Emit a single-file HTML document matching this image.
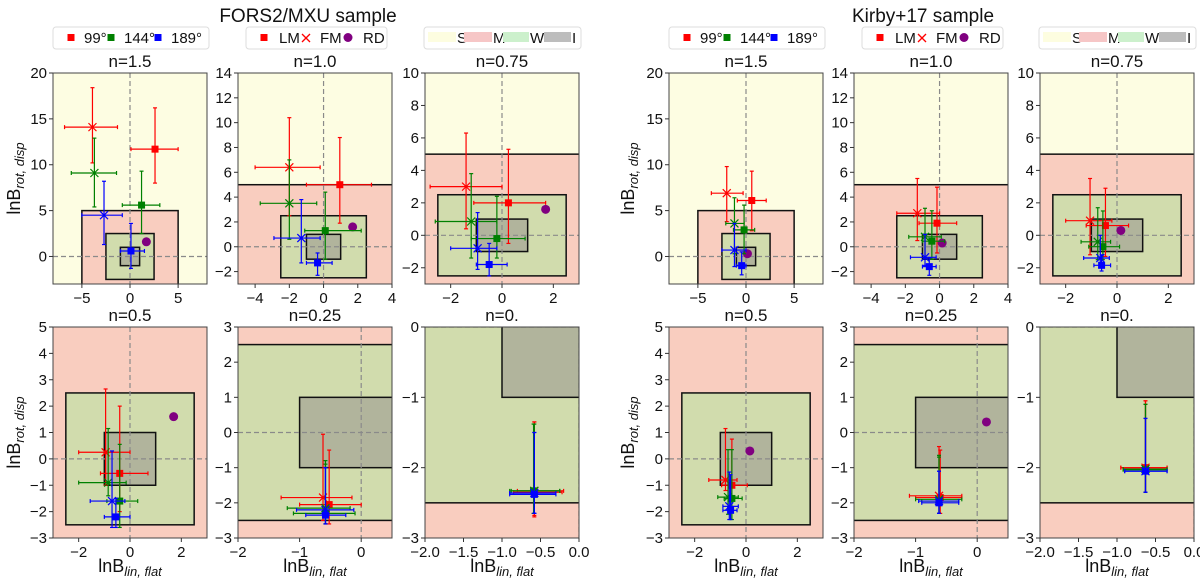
<!DOCTYPE html>
<html><head><meta charset="utf-8"><style>
html,body{margin:0;background:#fff;overflow:hidden;width:1200px;height:583px;}
svg{display:block;font-family:"Liberation Sans","DejaVu Sans",sans-serif;}
</style></head><body>
<svg id="fig" width="1200" height="583" viewBox="0 0 1200 583" xmlns="http://www.w3.org/2000/svg">
<defs id="defs"></defs>
</svg>
<script>
// ---------- data: [color, marker, x, y, xlo, xhi, ylo, yhi] ----------
const fors_n150 = [
 ['r','x',-3.9,14.1,-6.8,-1.3,10.2,18.4],['r','s',2.6,11.7,0.1,5.0,8.0,16.2],
 ['g','x',-3.7,9.1,-6.1,-1.4,5.4,12.9],['g','s',1.2,5.6,-0.8,3.1,2.5,9.3],
 ['b','x',-2.7,4.5,-5.0,-0.8,1.3,8.2],['b','s',0.1,0.6,-1.0,1.5,-1.3,3.6]];
const fors_n100 = [
 ['r','x',-2.0,6.4,-4.0,-0.2,2.5,10.4],['r','s',0.95,5.0,-1.0,2.8,1.9,8.8],
 ['g','x',-2.0,3.5,-3.7,-0.4,0.6,7.0],['g','s',0.1,1.3,-1.1,2.2,-1.0,4.4],
 ['b','x',-1.3,0.7,-2.9,-0.2,-1.3,3.8],['b','s',-0.35,-1.3,-1.0,0.5,-2.3,-0.5]];
const fors_n075 = [
 ['r','x',-1.4,3.0,-2.8,0.0,0.4,6.3],['r','s',0.25,2.0,-1.1,1.7,-0.5,5.3],
 ['g','x',-1.2,0.85,-2.6,-0.2,-1.4,3.8],['g','s',-0.2,-0.2,-1.2,0.9,-1.4,2.4],
 ['b','x',-0.95,-0.8,-2.0,-0.2,-2.1,1.4],['b','s',-0.5,-1.8,-1.0,0.2,-2.5,-0.5]];
const fors_n050 = [
 ['r','x',-0.95,0.25,-2.0,0.0,-1.0,2.65],['r','s',-0.4,-0.55,-1.15,0.7,-2.0,2.0],
 ['g','x',-0.85,-0.9,-2.0,-0.15,-1.4,1.15],['g','s',-0.4,-1.6,-0.9,0.3,-2.6,0.55],
 ['b','x',-0.7,-1.6,-1.55,-0.2,-2.6,0.3],['b','s',-0.55,-2.2,-1.0,0.0,-2.6,-1.5]];
const fors_n025 = [
 ['r','x',-0.62,-1.85,-1.3,-0.15,-2.5,-0.05],['r','s',-0.52,-2.05,-1.0,0.0,-2.6,-0.5],
 ['g','x',-0.58,-2.15,-1.2,-0.18,-2.6,-0.8],['g','s',-0.58,-2.3,-1.1,-0.1,-2.6,-0.9],
 ['b','x',-0.58,-2.2,-1.05,-0.12,-2.6,-1.0],['b','s',-0.58,-2.35,-0.9,-0.25,-2.6,-1.0]];
const fors_n000 = [
 ['r','x',-0.58,-2.33,-0.8,-0.2,-2.7,-1.35],['r','s',-0.58,-2.35,-0.85,-0.22,-2.68,-1.35],
 ['g','x',-0.58,-2.33,-0.88,-0.25,-2.65,-1.38],['g','s',-0.59,-2.33,-0.9,-0.25,-2.65,-1.38],
 ['b','x',-0.58,-2.36,-0.9,-0.3,-2.65,-1.5],['b','s',-0.58,-2.38,-0.9,-0.3,-2.65,-1.5]];
const fors_rd = [1.7, 1.6];

const kirby_n150 = [
 ['r','x',-2.0,6.9,-3.6,-0.3,3.8,9.8],['r','s',0.6,6.1,-0.9,2.1,2.8,9.3],
 ['g','x',-1.2,3.6,-2.1,-0.2,0.3,6.4],['g','s',-0.2,2.9,-1.3,0.9,0.3,5.6],
 ['b','x',-1.2,0.7,-2.5,0.0,-1.1,3.6],['b','s',-0.45,-1.0,-1.0,0.0,-2.0,0.5]];
const kirby_n100 = [
 ['r','x',-1.3,2.7,-2.5,0.0,0.5,5.5],['r','s',-0.15,1.9,-1.2,1.0,-0.5,4.8],
 ['g','x',-0.85,0.8,-1.8,0.1,-0.9,3.1],['g','s',-0.45,0.45,-1.0,0.3,-1.0,2.9],
 ['b','x',-0.85,-0.85,-1.7,-0.2,-1.5,1.0],['b','s',-0.6,-1.6,-1.0,-0.2,-2.3,-0.9]];
const kirby_n075 = [
 ['r','x',-1.05,0.9,-2.0,-0.2,-1.2,3.5],['r','s',-0.45,0.6,-1.2,0.45,-1.3,2.9],
 ['g','x',-0.75,-0.4,-1.4,-0.25,-1.5,1.7],['g','s',-0.55,-0.7,-1.1,0.1,-1.5,1.5],
 ['b','x',-0.65,-1.4,-1.3,-0.3,-2.0,0.0],['b','s',-0.6,-1.85,-0.9,-0.25,-2.2,-1.2]];
const kirby_n050 = [
 ['r','x',-0.8,-0.8,-1.45,-0.35,-1.2,1.15],['r','s',-0.55,-1.0,-0.95,0.05,-1.4,0.75],
 ['g','x',-0.7,-1.45,-1.1,-0.3,-2.1,0.35],['g','s',-0.55,-1.5,-0.85,-0.15,-2.3,0.35],
 ['b','x',-0.65,-1.8,-0.9,-0.3,-2.3,-0.5],['b','s',-0.6,-1.95,-0.9,-0.35,-2.3,-0.6]];
const kirby_n025 = [
 ['r','x',-0.62,-1.8,-1.1,-0.25,-2.3,-0.4],['r','s',-0.6,-1.85,-1.0,-0.25,-2.3,-0.5],
 ['g','x',-0.62,-1.9,-1.0,-0.25,-2.3,-0.65],['g','s',-0.62,-1.95,-0.9,-0.3,-2.3,-0.7],
 ['b','x',-0.62,-1.95,-0.95,-0.3,-2.3,-1.1],['b','s',-0.62,-2.0,-0.9,-0.3,-2.3,-1.1]];
const kirby_n000 = [
 ['r','x',-0.63,-2.0,-0.95,-0.35,-2.35,-1.05],['r','s',-0.63,-2.0,-0.95,-0.35,-2.35,-1.05],
 ['g','x',-0.63,-2.02,-0.92,-0.35,-2.35,-1.1],['g','s',-0.63,-2.03,-0.92,-0.35,-2.35,-1.1],
 ['b','x',-0.63,-2.05,-0.9,-0.35,-2.35,-1.3],['b','s',-0.63,-2.05,-0.9,-0.35,-2.35,-1.3]];
const kirby_rd = [0.15, 0.3];

// tick labels
const xt150 = [-5,0,5], yt150 = [0,5,10,15,20];
const xt100 = [-4,-2,0,2,4], yt100 = [-2,0,2,4,6,8,10,12,14];
const xt075 = [-2,0,2], yt075 = [-2,0,2,4,6,8,10];
const xt050 = [-2,0,2], yt050 = [-3,-2,-1,0,1,2,3,4,5];
const xt025 = [-2,-1,0], yt025 = [-3,-2,-1,0,1,2,3];
const xt000 = ['-2.0','-1.5','-1.0','-0.5','0.0'], yt000 = [-3,-2,-1,0];

const NS='http://www.w3.org/2000/svg';
const svg=document.getElementById('fig');
const defs=document.getElementById('defs');
const COL={r:'#ff0000',g:'#008000',b:'#0000ff'};
const YEL='#fdfde2', PNK='#f9cdbf', GRN='#d1dcad', GRY='#b1b49c';
function mk(tag,attrs,parent){const e=document.createElementNS(NS,tag);for(const k in attrs)e.setAttribute(k,attrs[k]);(parent||svg).appendChild(e);return e;}
function txt(s,attrs,parent){const e=mk('text',attrs,parent);e.textContent=s;return e;}
function fmt(v){return String(v).replace('-','\u2212');}

let clipId=0;
function panel(px,py,w,h,xr,yr,title,kind,data,rd,xticks,yticks,name,showY,showX){
  const g=mk('g',{});
  
  
  const sx=v=>px+(v-xr[0])/(xr[1]-xr[0])*w;
  const sy=v=>py+h-(v-yr[0])/(yr[1]-yr[0])*h;
  const cid='c'+(clipId++);
  const cp=mk('clipPath',{id:cid},defs);mk('rect',{x:px,y:py,width:w,height:h},cp);
  const cg=mk('g',{'clip-path':'url(#'+cid+')'},g);
  const R=(x0,x1,y0,y1,fill,stroke,nm)=>{const r=mk('rect',{x:sx(x0),y:sy(y1),width:sx(x1)-sx(x0),height:sy(y0)-sy(y1),fill:fill,stroke:stroke||'none','stroke-width':1.5},cg);
    };
  if(kind==='a'){R(-99,99,-99,99,YEL,null,'region-s');R(-5,5,-99,5,PNK,'#111','region-m');}
  else if(kind==='b'){R(-99,99,-99,99,YEL,null,'region-s');R(-99,99,-99,5,PNK,'#111','region-m');}
  else if(kind==='c'){R(-99,99,-99,99,PNK,null,'region-m');}
  else if(kind==='d'){R(-99,99,-99,99,PNK,null,'region-m');R(-99,99,-2.5,2.5,GRN,'#111','region-w');}
  else if(kind==='e'){R(-99,99,-99,99,PNK,null,'region-m');R(-99,99,-2.5,99,GRN,'#111','region-w');}
  if(kind==='a'||kind==='b'||kind==='c')R(-2.5,2.5,-2.5,2.5,GRN,'#111','region-w');
  R(-1,1,-1,1,GRY,'#111','region-i');
  mk('line',{x1:sx(0),x2:sx(0),y1:py,y2:py+h,stroke:'#8a8a8a','stroke-width':1.2,'stroke-dasharray':'5,3'},cg);
  mk('line',{x1:px,x2:px+w,y1:sy(0),y2:sy(0),stroke:'#8a8a8a','stroke-width':1.2,'stroke-dasharray':'5,3'},cg);
  const c=mk('circle',{cx:sx(rd[0]),cy:sy(rd[1]),r:4.5,fill:'#800080'},cg);
  
  data.forEach(d=>{
    const col=COL[d[0]];const pg=mk('g',{stroke:col,'stroke-width':1.2,fill:col},cg);
    
    
    const X=sx(d[2]),Y=sy(d[3]),xl=sx(d[4]),xh=sx(d[5]),yl=sy(d[6]),yh=sy(d[7]);
    mk('line',{x1:xl,x2:xh,y1:Y,y2:Y},pg);mk('line',{x1:X,x2:X,y1:yl,y2:yh},pg);
    [xl,xh].forEach(v=>mk('line',{x1:v,x2:v,y1:Y-2,y2:Y+2},pg));
    [yl,yh].forEach(v=>mk('line',{x1:X-2,x2:X+2,y1:v,y2:v},pg));
    if(d[1]==='s')mk('rect',{x:X-3.5,y:Y-3.5,width:7,height:7,stroke:'none'},pg);
    else{mk('line',{x1:X-4,x2:X+4,y1:Y-4,y2:Y+4},pg);mk('line',{x1:X-4,x2:X+4,y1:Y+4,y2:Y-4},pg);}
  });
  mk('rect',{x:px,y:py,width:w,height:h,fill:'none',stroke:'#444','stroke-width':1},g);
  xticks.forEach(t=>{const v=parseFloat(t);const X=sx(v);mk('line',{x1:X,x2:X,y1:py+h,y2:py+h+4,stroke:'#333'},g);
    const e=txt(fmt(t),{x:X,y:py+h+19,'font-size':15,'text-anchor':'middle',fill:'#111'},g);});
  yticks.forEach(t=>{const Y=sy(t);mk('line',{x1:px-4,x2:px,y1:Y,y2:Y,stroke:'#333'},g);
    const e=txt(fmt(t),{x:px-6,y:Y+5,'font-size':15,'text-anchor':'end',fill:'#111'},g);});
  const tt=txt(title,{x:px+w/2,y:py-6,'font-size':17,'text-anchor':'middle',fill:'#111'},g);
  
  if(showX){const e=mk('text',{x:px+w/2,y:py+h+34,'font-size':18,'text-anchor':'middle',fill:'#111'},g);
    
    e.innerHTML='lnB<tspan font-size="13" font-style="italic" dy="4">lin, flat</tspan>';}
}

function group(ox,pxs,rdv,sets,title,lab,tx,gname){
  const T=txt(title,{x:tx,y:22,'font-size':19,'text-anchor':'middle',fill:'#111'});
  
  const W=154,H=211,Y1=73,Y2=327;
  panel(pxs[0],Y1,W,H,[-8,8],[-3,20],'n=1.5','a',sets[0],rdv,xt150,yt150,gname+'-panel-n1.5');
  panel(pxs[1],Y1,W,H,[-5,4],[-3,14],'n=1.0','b',sets[1],rdv,xt100,yt100,gname+'-panel-n1.0');
  panel(pxs[2],Y1,W,H,[-3,3],[-3,10],'n=0.75','b',sets[2],rdv,xt075,yt075,gname+'-panel-n0.75');
  panel(pxs[0],Y2,W,H,[-3,3],[-3,5],'n=0.5','c',sets[3],rdv,xt050,yt050,gname+'-panel-n0.5',true,true);
  panel(pxs[1],Y2,W,H,[-2,0.5],[-3,3],'n=0.25','d',sets[4],rdv,xt025,yt025,gname+'-panel-n0.25',false,true);
  panel(pxs[2],Y2,W,H,[-2,0],[-3,0],'n=0.','e',sets[5],rdv,xt000,yt000,gname+'-panel-n0',false,true);
  [Y1+H/2,Y2+H/2].forEach(cy=>{const e=mk('text',{transform:'translate('+lab+','+cy+') rotate(-90)','font-size':18,'text-anchor':'middle',fill:'#111'});
    
    e.innerHTML='lnB<tspan font-size="13" font-style="italic" dy="4">rot, disp</tspan>';});
  const lb=[[pxs[0],156],[pxs[0]+193,141],[pxs[2]-1,157]];
  const b1=mk('g',{});
  const b2=mk('g',{});
  const b3=mk('g',{});
  [b1,b2,b3].forEach((b,i)=>mk('rect',{x:lb[i][0],y:27,width:lb[i][1],height:22,rx:3,fill:'#fff',stroke:'#ddd'},b));
  const x1=lb[0][0];
  [['r',18,'99°'],['g',58,'144°'],['b',105,'189°']].forEach(a=>{mk('rect',{x:x1+a[1]-3.5,y:34,width:7,height:7,fill:COL[a[0]]},b1);
    const e=txt(a[2],{x:x1+a[1]+13,y:43,'font-size':15,fill:'#111'},b1);});
  const x2=lb[1][0];
  mk('rect',{x:x2+18-3.5,y:34,width:7,height:7,fill:'#f00'},b2);
  txt('LM',{x:x2+33,y:43,'font-size':15,fill:'#111'},b2);
  mk('line',{x1:x2+56,y1:34,x2:x2+64,y2:42,stroke:'#f00','stroke-width':1.3},b2);mk('line',{x1:x2+56,y1:42,x2:x2+64,y2:34,stroke:'#f00','stroke-width':1.3},b2);
  txt('FM',{x:x2+74,y:43,'font-size':15,fill:'#111'},b2);
  mk('circle',{cx:x2+102,cy:37.5,r:4.5,fill:'#800080'},b2);
  txt('RD',{x:x2+117,y:43,'font-size':15,fill:'#111'},b2);
  const x3=lb[2][0];
  [[4,33,'#fdfde0','S'],[40,69,'#f6c6c6','M'],[79,106,'#ccf0cc','W'],[120,148,'#bdbdbd','I']].forEach(a=>{
    mk('rect',{x:x3+a[0],y:32,width:a[1]-a[0]-1,height:10,fill:a[2]},b3);
    txt(a[3],{x:x3+a[1],y:43,'font-size':15,fill:'#111'},b3);});
}
group(0,[53,238,425],fors_rd,[fors_n150,fors_n100,fors_n075,fors_n050,fors_n025,fors_n000],'FORS2/MXU sample',20,308,'fors');
group(600,[669,854,1040],kirby_rd,[kirby_n150,kirby_n100,kirby_n075,kirby_n050,kirby_n025,kirby_n000],'Kirby+17 sample',634,923,'kirby');
</script>
</body></html>
